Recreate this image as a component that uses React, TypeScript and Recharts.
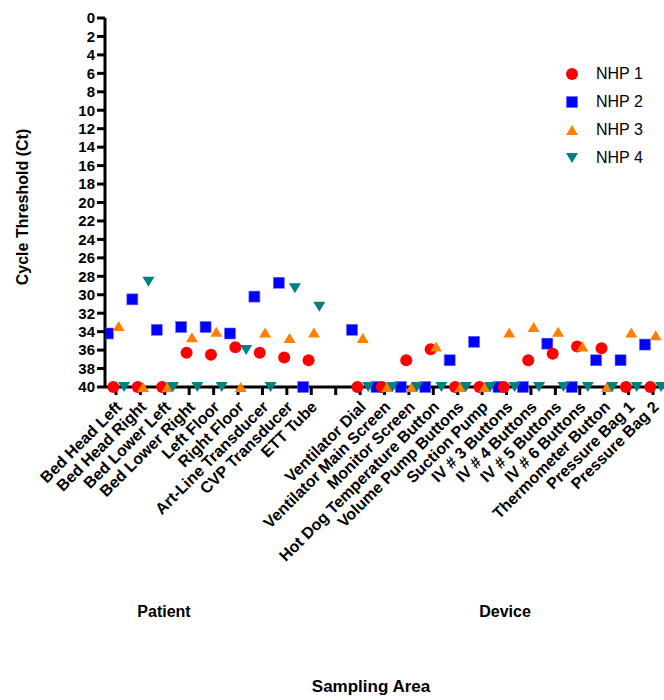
import React from 'react';
import { ScatterChart, Scatter, XAxis, YAxis, Legend } from 'recharts';

// sampling sites, '' is the gap between the patient and the device groups
const categories = [
  'Bed Head Left', 'Bed Head Right', 'Bed Lower Left', 'Bed Lower Right', 'Left Floor',
  'Right Floor', 'Art-Line Transducer', 'CVP Transducer', 'ETT Tube', '',
  'Ventilator Dial', 'Ventilator Main Screen', 'Monitor Screen', 'Hot Dog Temperature Button',
  'Volume Pump Buttons', 'Suction Pump', 'IV # 3 Buttons', 'IV # 4 Buttons', 'IV # 5 Buttons',
  'IV # 6 Buttons', 'Thermometer Button', 'Pressure Bag 1', 'Pressure Bag 2'
];

const nhp1 = [40, 40, 40, 36.3, 36.5, 35.7, 36.3, 36.8, 37.1, null, 40, 40, 37.1, 35.9, 40, 40, 40, 37.1, 36.4, 35.6, 35.8, 40, 40];
const nhp2 = [34.2, 30.5, 33.8, 33.5, 33.5, 34.2, 30.2, 28.7, 40, null, 33.8, 40, 40, 40, 37.1, 35.1, 40, 40, 35.3, 40, 37.1, 37.1, 35.4];
const nhp3 = [33.4, 40, 40, 34.6, 34.0, 40, 34.1, 34.7, 34.1, null, 34.7, 40, 40, 35.6, 40, 40, 34.1, 33.5, 34.0, 35.6, 40, 34.1, 34.4];
const nhp4 = [40, 28.6, 40, 40, 40, 36.0, 40, 29.3, 31.3, null, 40, 40, 40, 40, 40, 40, 40, 40, 40, 40, 40, 40, 40];

const yTicks = [0, 2, 4, 6, 8, 10, 12, 14, 16, 18, 20, 22, 24, 26, 28, 30, 32, 34, 36, 38, 40];

const FONT = '"Liberation Sans", Arial, Helvetica, sans-serif';

// series setup: name, values, color, marker, horizontal nudge inside the category
const series = [
  { name: 'NHP 1', values: nhp1, color: '#FF0000', shape: 'circle', nudge: -0.11 },
  { name: 'NHP 2', values: nhp2, color: '#0000FF', shape: 'square', nudge: -0.33 },
  { name: 'NHP 3', values: nhp3, color: '#FF8000', shape: 'up', nudge: 0.11 },
  { name: 'NHP 4', values: nhp4, color: '#008080', shape: 'down', nudge: 0.33 },
];

// draw order: blue under red, then orange, then teal
const drawOrder = [1, 0, 2, 3];

const Marker = ({ kind, color, cx, cy }: { kind: string; color: string; cx: number; cy: number }) => {
  if (kind === 'circle') return <circle cx={cx} cy={cy} r={6} fill={color} />;
  if (kind === 'square') return <rect x={cx - 5.5} y={cy - 5.5} width={11} height={11} fill={color} stroke="#6b6bff" strokeWidth={0.6} />;
  if (kind === 'up') return <polygon points={`${cx - 6},${cy + 5} ${cx + 6},${cy + 5} ${cx},${cy - 5}`} fill={color} />;
  return <polygon points={`${cx - 6},${cy - 5} ${cx + 6},${cy - 5} ${cx},${cy + 5}`} fill={color} />;
};

const XTick = (props: any) => {
  const { x, y, payload } = props;
  const label = categories[payload.value];
  if (!label) return null;
  const ax = x + 3;
  const ay = y + 7;
  return (
    <text
      x={ax}
      y={ay}
      transform={`rotate(-45, ${ax}, ${ay})`}
      textAnchor="end"
      dominantBaseline="central"
      fontFamily={FONT}
      fontWeight="bold"
      fontSize={16}
      fill="#000"
    >
      {label}
    </text>
  );
};

const LegendBox = () => (
  <div style={{ fontFamily: FONT }}>
    {series.map((s) => (
      <div key={s.name} style={{ display: 'flex', alignItems: 'center', height: 28 }}>
        <svg width={24} height={20}>
          <Marker kind={s.shape} color={s.color} cx={12} cy={10} />
        </svg>
        <span style={{ marginLeft: 12, fontSize: 16, color: '#000' }}>{s.name}</span>
      </div>
    ))}
  </div>
);

export default function App() {
  const axisStroke = { stroke: '#000', strokeWidth: 3 };

  return (
    <div style={{ position: 'absolute', left: 0, top: 0, width: 664, height: 700, background: '#fff' }}>
      <ScatterChart width={664} height={700} margin={{ top: 18, right: 0, bottom: 283, left: 0 }}>
        <XAxis
          type="number"
          dataKey="x"
          domain={[-0.45, 22.45]}
          ticks={categories.map((_, i) => i)}
          interval={0}
          allowDataOverflow
          height={30}
          tickSize={8}
          axisLine={axisStroke}
          tickLine={axisStroke}
          tick={<XTick />}
        />
        <YAxis
          type="number"
          dataKey="y"
          domain={[0, 40]}
          reversed
          ticks={yTicks}
          interval={0}
          width={105}
          tickSize={8}
          tickMargin={2}
          axisLine={axisStroke}
          tickLine={axisStroke}
          tick={{ fill: '#000', fontSize: 15, fontWeight: 'bold', fontFamily: FONT }}
        />
        {drawOrder.map((k) => {
          const s = series[k];
          const data = s.values
            .map((v, i) => (v === null ? null : { x: i + s.nudge, y: v }))
            .filter((d) => d !== null);
          return (
            <Scatter
              key={s.name}
              name={s.name}
              data={data}
              fill={s.color}
              isAnimationActive={false}
              shape={(p: any) => <Marker kind={s.shape} color={s.color} cx={p.cx} cy={p.cy} />}
            />
          );
        })}
        <Legend
          layout="vertical"
          align="center"
          verticalAlign="middle"
          content={<LegendBox />}
          wrapperStyle={{ left: 560, top: 60, width: 104 }}
        />
        <text
          x={22}
          y={207}
          transform="rotate(-90, 22, 207)"
          textAnchor="middle"
          dominantBaseline="central"
          fontFamily={FONT}
          fontWeight="bold"
          fontSize={16}
          fill="#000"
        >
          Cycle Threshold (Ct)
        </text>
        <text x={164} y={611} textAnchor="middle" dominantBaseline="central" fontFamily={FONT} fontWeight="bold" fontSize={16} fill="#000">
          Patient
        </text>
        <text x={505} y={611} textAnchor="middle" dominantBaseline="central" fontFamily={FONT} fontWeight="bold" fontSize={16} fill="#000">
          Device
        </text>
        <text x={371} y={686} textAnchor="middle" dominantBaseline="central" fontFamily={FONT} fontWeight="bold" fontSize={17} fill="#000">
          Sampling Area
        </text>
      </ScatterChart>
    </div>
  );
}
